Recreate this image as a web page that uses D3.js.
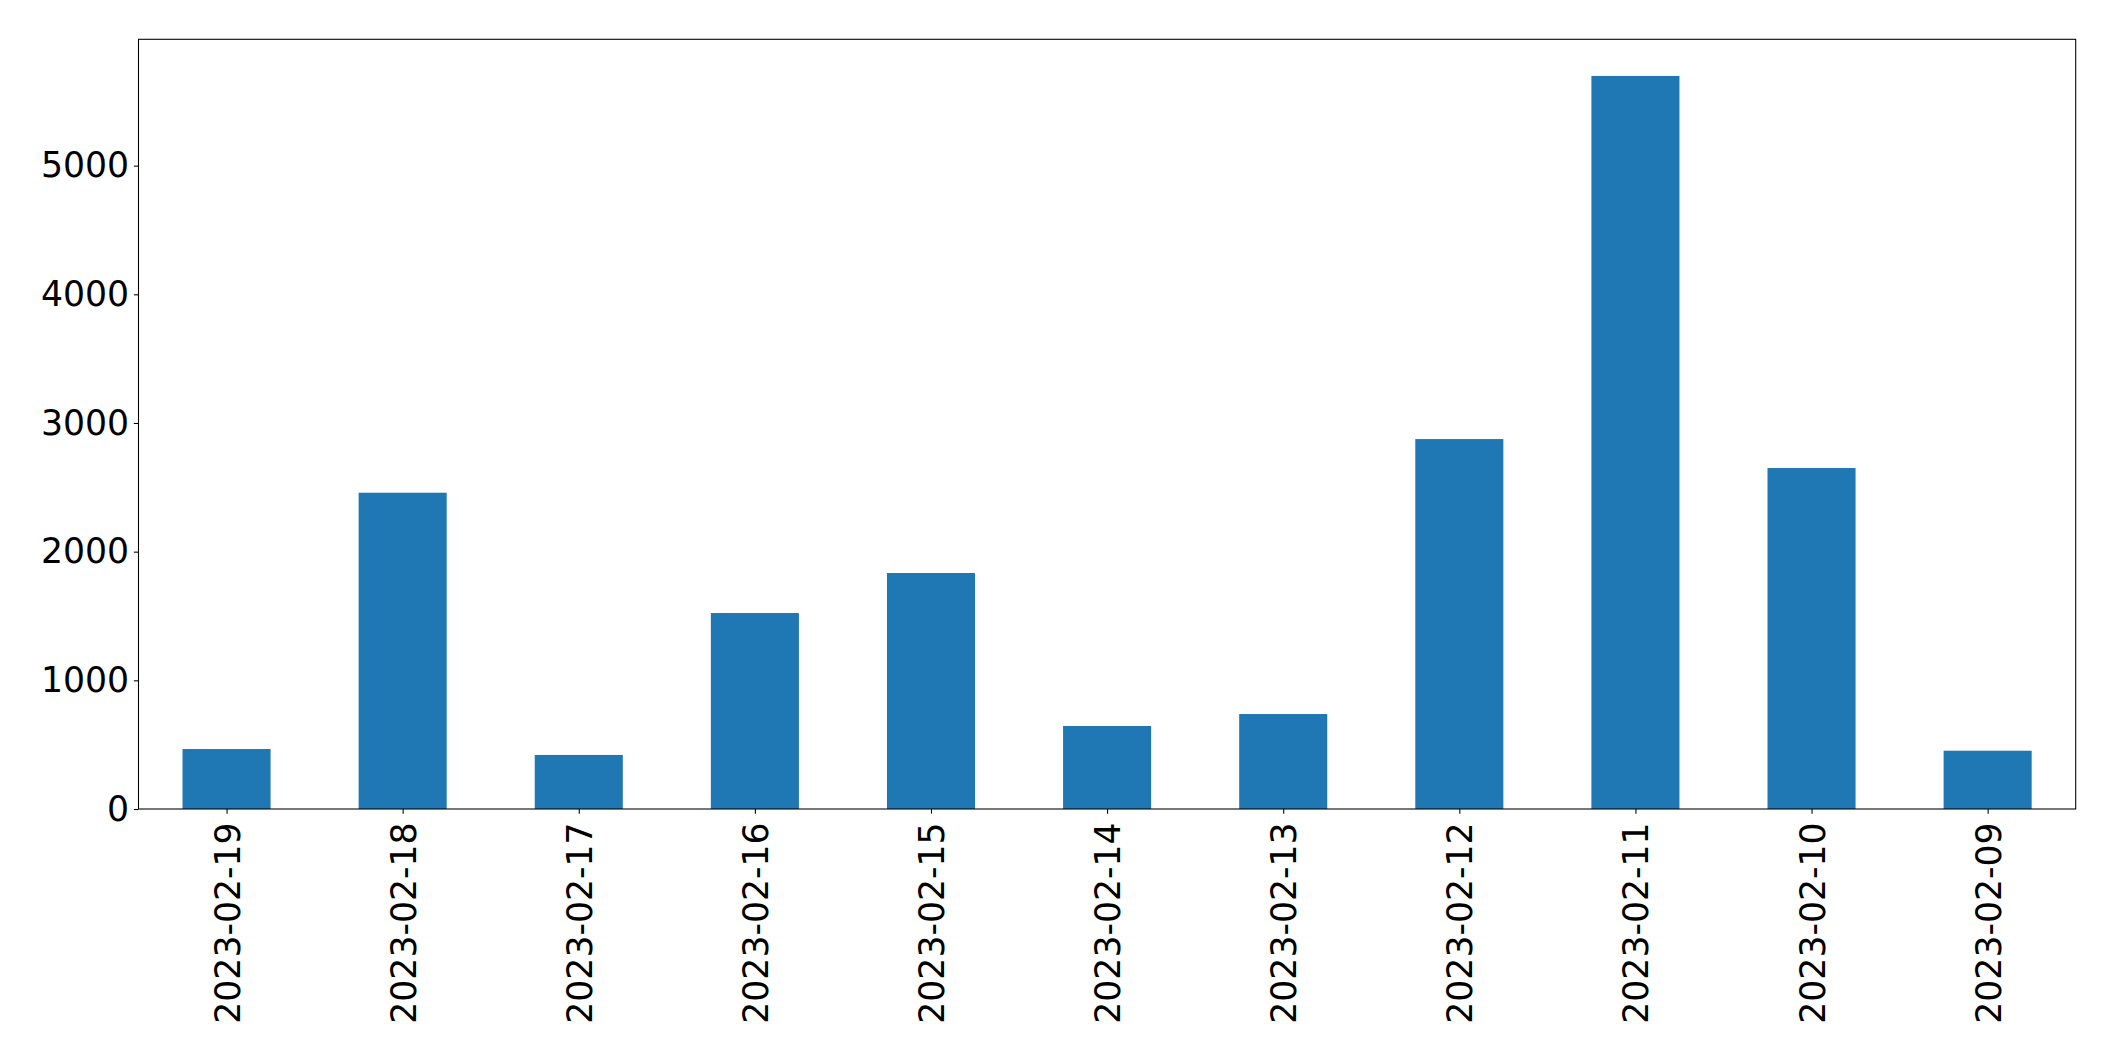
<!DOCTYPE html>
<html>
<head>
<meta charset="utf-8">
<script src="https://cdn.jsdelivr.net/npm/d3@7"></script>
<style>
  html, body { margin: 0; padding: 0; background: #fff; }
  svg { display: block; }
  text { font-family: "DejaVu Sans", sans-serif; fill: #000; }
</style>
</head>
<body>
<svg id="chart" width="2115" height="1061"></svg>
<script>
const categories = ["2023-02-19","2023-02-18","2023-02-17","2023-02-16","2023-02-15","2023-02-14","2023-02-13","2023-02-12","2023-02-11","2023-02-10","2023-02-09"];
const values = [466, 2458, 420, 1523, 1834, 645, 738, 2875, 5697, 2650, 453];
const yTicks = [0, 1000, 2000, 3000, 4000, 5000];

const margin = {left: 138.5, top: 39.3, right: 2115 - 2075.7, bottom: 1061 - 809};
const W = 2115, H = 1061;
const x0 = margin.left, x1 = W - margin.right, y0 = H - margin.bottom, y1 = margin.top;

const svg = d3.select("#chart");

const x = d3.scaleLinear().domain([-0.5, categories.length - 0.5]).range([x0, x1]);
const yMax = d3.max(values) * 1.05;
const y = d3.scaleLinear().domain([0, yMax]).range([y0, y1]);

// bars
svg.append("g").selectAll("rect").data(values).join("rect")
  .attr("x", (d, i) => x(i - 0.25))
  .attr("width", (d, i) => x(i + 0.25) - x(i - 0.25))
  .attr("y", d => y(d))
  .attr("height", d => y(0) - y(d))
  .attr("fill", "#1f77b4");

const fs = 34.67;
const tickLen = 4.67, pad = 4.67, lw = 1.07;

// y axis
const yAxis = d3.axisLeft(y).tickValues(yTicks).tickSize(tickLen).tickPadding(pad).tickFormat(d3.format("d"));
const gy = svg.append("g").attr("transform", `translate(${x0},0)`).call(yAxis);
gy.select(".domain").remove();
gy.selectAll(".tick line").attr("stroke", "#000").attr("stroke-width", lw);
gy.selectAll(".tick text").attr("font-size", fs).attr("font-family", "DejaVu Sans").attr("fill", "#000");

// x axis
const xAxis = d3.axisBottom(x).tickValues(d3.range(categories.length)).tickSize(tickLen).tickPadding(pad)
  .tickFormat(i => categories[i]);
const gx = svg.append("g").attr("transform", `translate(0,${y0})`).call(xAxis);
gx.select(".domain").remove();
gx.selectAll(".tick line").attr("stroke", "#000").attr("stroke-width", lw);
gx.selectAll(".tick text")
  .attr("font-size", fs).attr("font-family", "DejaVu Sans").attr("fill", "#000")
  .attr("transform", "rotate(-90)")
  .attr("text-anchor", "end")
  .attr("x", -(tickLen + pad + 4))
  .attr("y", 0)
  .attr("dy", "0.36em");

// frame
svg.append("rect")
  .attr("x", x0).attr("y", y1).attr("width", x1 - x0).attr("height", y0 - y1)
  .attr("fill", "none").attr("stroke", "#000").attr("stroke-width", lw);
</script>
</body>
</html>
